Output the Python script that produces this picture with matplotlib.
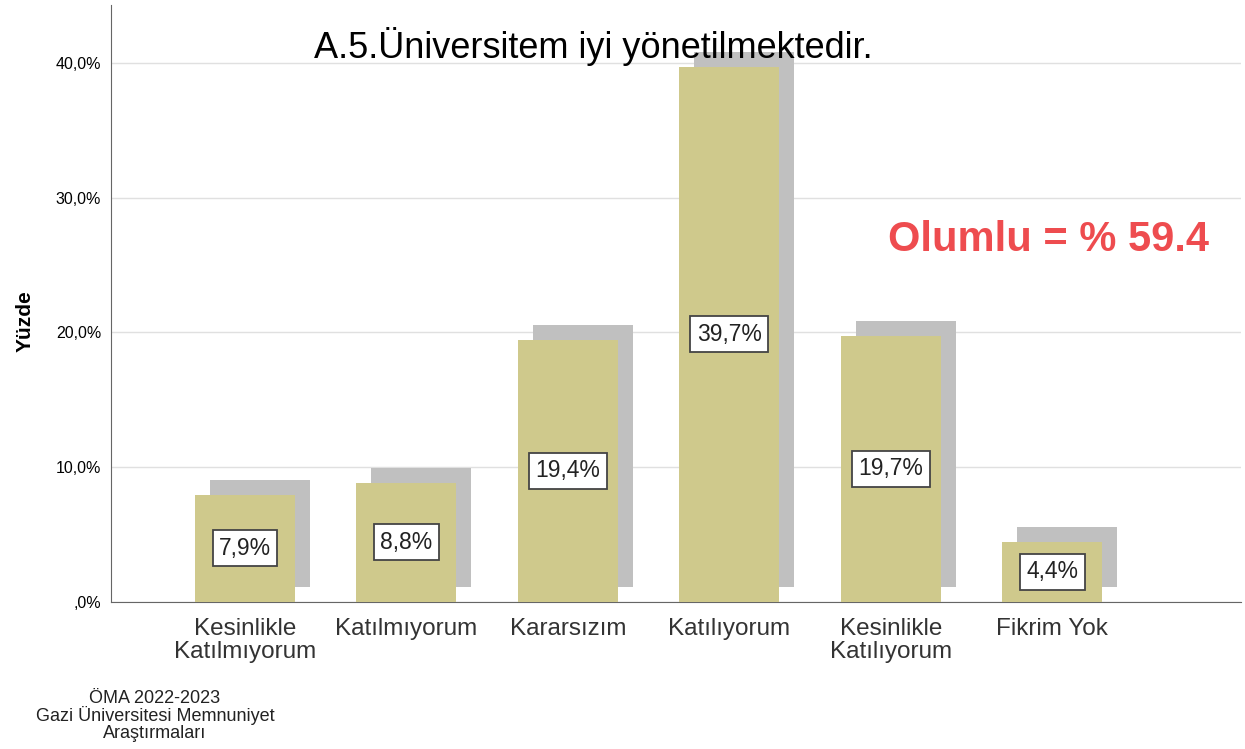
import matplotlib
matplotlib.use("Agg")
import matplotlib.pyplot as plt
from matplotlib.transforms import offset_copy
from matplotlib.ticker import FuncFormatter

plt.rcParams['font.family'] = ['Liberation Sans', 'DejaVu Sans']

# veriler
kategoriler = ["Kesinlikle\nKatılmıyorum", "Katılmıyorum", "Kararsızım",
               "Katılıyorum", "Kesinlikle\nKatılıyorum", "Fikrim Yok"]
yuzdeler = [7.9, 8.8, 19.4, 39.7, 19.7, 4.4]
etiketler = ["7,9%", "8,8%", "19,4%", "39,7%", "19,7%", "4,4%"]
yticks = [0, 10, 20, 30, 40]

fig = plt.figure(figsize=(12.45, 7.49), dpi=100)
ax = fig.add_axes([111 / 1245, 1 - 601.5 / 749, 1130 / 1245, 596.5 / 749])

x = list(range(len(kategoriler)))
bar_w = 0.62

# gölge (sağa ve yukarı kaydırılmış)
golge = offset_copy(ax.transData, fig=fig, x=15, y=15, units='dots')
ax.bar(x, yuzdeler, width=bar_w, color='#c0c0c0', transform=golge, zorder=2)
ax.bar(x, yuzdeler, width=bar_w, color='#cfc98c', zorder=3)

for xi, v, lab in zip(x, yuzdeler, etiketler):
    ax.text(xi, v / 2, lab, ha='center', va='center', fontsize=16.5, color='#222222',
            zorder=5, bbox=dict(boxstyle='square,pad=0.28', fc='white', ec='#444444', lw=1.3))

ax.set_xlim(-0.83, 6.17)
ax.set_ylim(0, 44.3)
ax.set_yticks(yticks)
ax.yaxis.set_major_formatter(FuncFormatter(lambda v, p: ",0%" if v == 0 else f"{v:.1f}%".replace('.', ',')))
ax.set_xticks(x)
ax.set_xticklabels(kategoriler, fontsize=17.5, color='#333333', linespacing=1.05)
ax.tick_params(axis='y', labelsize=11.5, length=0, pad=7)
ax.tick_params(axis='x', length=0, pad=12)
ax.grid(axis='y', color='#e0e0e0', lw=1, zorder=0)
ax.set_axisbelow(True)
for s in ['top', 'right']:
    ax.spines[s].set_visible(False)
ax.spines['left'].set_color('#666666')
ax.spines['bottom'].set_color('#666666')

ax.set_ylabel("Yüzde", fontsize=15, fontweight='bold')
ax.yaxis.set_label_coords(-0.068, 0.47)

fig.text(593 / 1245, 1 - 46 / 749, "A.5.Üniversitem iyi yönetilmektedir.",
         ha='center', va='center', fontsize=26)
fig.text(1048 / 1245, 1 - 240 / 749, "Olumlu = % 59.4", ha='center', va='center',
         fontsize=30, fontweight='bold', color='#ee4c4f')
fig.text(155 / 1245, 1 - 716 / 749,
         "ÖMA 2022-2023\nGazi Üniversitesi Memnuniyet\nAraştırmaları",
         ha='center', va='center', fontsize=13, linespacing=0.98, color='#222222')

fig.savefig("out.png", dpi=100)
